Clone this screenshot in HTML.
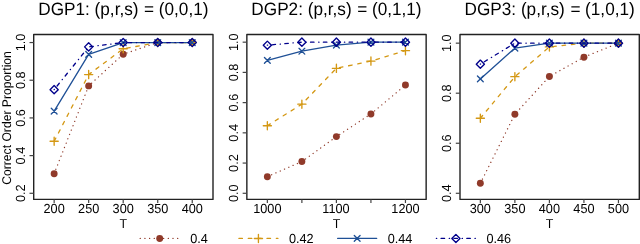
<!DOCTYPE html><html><head><meta charset="utf-8"><style>html,body{margin:0;padding:0;background:#fff;width:640px;height:244px;overflow:hidden}svg{display:block;will-change:transform}text{font-family:"Liberation Sans",sans-serif;fill:#000;text-rendering:geometricPrecision}</style></head><body>
<svg width="640" height="244" viewBox="0 0 640 244">
<text transform="translate(38.222,14.600) scale(1,1.04)" font-size="17.2">DGP1: (p,r,s)</text>
<text transform="translate(144.124,14.600) scale(1,1.04)" font-size="17.2">=</text>
<text transform="translate(158.768,14.600) scale(1,1.04)" font-size="17.2">(0,0,1)</text>
<polyline points="54.15,173.70 88.67,85.88 123.20,54.22 157.72,42.54 192.25,42.54" fill="none" stroke="#903A2A" stroke-width="1.3" stroke-linecap="round" stroke-linejoin="round" stroke-dasharray="0.1 4.58"/>
<circle cx="54.15" cy="173.70" r="3.47" fill="#903A2A"/>
<circle cx="88.67" cy="85.88" r="3.47" fill="#903A2A"/>
<circle cx="123.20" cy="54.22" r="3.47" fill="#903A2A"/>
<circle cx="157.72" cy="42.54" r="3.47" fill="#903A2A"/>
<circle cx="192.25" cy="42.54" r="3.47" fill="#903A2A"/>
<polyline points="54.15,141.28 88.67,74.58 123.20,48.76 157.72,42.54 192.25,42.54" fill="none" stroke="#D49814" stroke-width="1.3" stroke-linecap="round" stroke-linejoin="round" stroke-dasharray="3.51 5.85"/>
<path d="M50.07 141.28H58.23M54.15 137.20V145.37" stroke="#D49814" stroke-width="1.35" stroke-linecap="round" fill="none"/>
<path d="M84.59 74.58H92.76M88.67 70.49V78.66" stroke="#D49814" stroke-width="1.35" stroke-linecap="round" fill="none"/>
<path d="M119.12 48.76H127.28M123.20 44.68V52.84" stroke="#D49814" stroke-width="1.35" stroke-linecap="round" fill="none"/>
<path d="M153.64 42.54H161.81M157.72 38.46V46.62" stroke="#D49814" stroke-width="1.35" stroke-linecap="round" fill="none"/>
<path d="M188.17 42.54H196.33M192.25 38.46V46.62" stroke="#D49814" stroke-width="1.35" stroke-linecap="round" fill="none"/>
<polyline points="54.15,111.13 88.67,54.41 123.20,42.54 157.72,42.54 192.25,42.54" fill="none" stroke="#1F5096" stroke-width="1.3" stroke-linecap="round" stroke-linejoin="round"/>
<path d="M51.26 108.25L57.04 114.02M51.26 114.02L57.04 108.25" stroke="#1F5096" stroke-width="1.35" stroke-linecap="round" fill="none"/>
<path d="M85.79 51.52L91.56 57.30M85.79 57.30L91.56 51.52" stroke="#1F5096" stroke-width="1.35" stroke-linecap="round" fill="none"/>
<path d="M120.31 39.65L126.09 45.43M120.31 45.43L126.09 39.65" stroke="#1F5096" stroke-width="1.35" stroke-linecap="round" fill="none"/>
<path d="M154.84 39.65L160.61 45.43M154.84 45.43L160.61 39.65" stroke="#1F5096" stroke-width="1.35" stroke-linecap="round" fill="none"/>
<path d="M189.36 39.65L195.14 45.43M189.36 45.43L195.14 39.65" stroke="#1F5096" stroke-width="1.35" stroke-linecap="round" fill="none"/>
<polyline points="54.15,89.65 88.67,46.87 123.20,42.54 157.72,42.54 192.25,42.54" fill="none" stroke="#00008B" stroke-width="1.3" stroke-linecap="round" stroke-linejoin="round" stroke-dasharray="0.3 4.38 3.51 4.68"/>
<path d="M54.15 85.57L58.23 89.65L54.15 93.73L50.07 89.65Z" stroke="#00008B" stroke-width="1.35" stroke-linejoin="round" fill="none"/>
<path d="M88.67 42.79L92.76 46.87L88.67 50.96L84.59 46.87Z" stroke="#00008B" stroke-width="1.35" stroke-linejoin="round" fill="none"/>
<path d="M123.20 38.46L127.28 42.54L123.20 46.62L119.12 42.54Z" stroke="#00008B" stroke-width="1.35" stroke-linejoin="round" fill="none"/>
<path d="M157.72 38.46L161.81 42.54L157.72 46.62L153.64 42.54Z" stroke="#00008B" stroke-width="1.35" stroke-linejoin="round" fill="none"/>
<path d="M192.25 38.46L196.33 42.54L192.25 46.62L188.17 42.54Z" stroke="#00008B" stroke-width="1.35" stroke-linejoin="round" fill="none"/>
<rect x="33.70" y="34.55" width="179.3" height="164.85" fill="none" stroke="#222" stroke-width="1.4" stroke-linejoin="round"/>
<line x1="54.15" y1="199.4" x2="54.15" y2="203.0" stroke="#444" stroke-width="1.2"/>
<line x1="88.67" y1="199.4" x2="88.67" y2="203.0" stroke="#444" stroke-width="1.2"/>
<line x1="123.20" y1="199.4" x2="123.20" y2="203.0" stroke="#444" stroke-width="1.2"/>
<line x1="157.72" y1="199.4" x2="157.72" y2="203.0" stroke="#444" stroke-width="1.2"/>
<line x1="192.25" y1="199.4" x2="192.25" y2="203.0" stroke="#444" stroke-width="1.2"/>
<text transform="translate(43.555,212.500) scale(1,1.04)" font-size="12.7">200</text>
<text transform="translate(78.080,212.500) scale(1,1.04)" font-size="12.7">250</text>
<text transform="translate(112.605,212.500) scale(1,1.04)" font-size="12.7">300</text>
<text transform="translate(147.130,212.500) scale(1,1.04)" font-size="12.7">350</text>
<text transform="translate(181.655,212.500) scale(1,1.04)" font-size="12.7">400</text>
<text transform="translate(119.563,228.100) scale(1,1.04)" font-size="12.4">T</text>
<line x1="29.50" y1="193.29" x2="33.70" y2="193.29" stroke="#444" stroke-width="1.2"/>
<text transform="translate(24.900,193.294) rotate(-90) translate(-8.827,0) scale(1,1.04)" font-size="12.7">0.2</text>
<line x1="29.50" y1="155.61" x2="33.70" y2="155.61" stroke="#444" stroke-width="1.2"/>
<text transform="translate(24.900,155.606) rotate(-90) translate(-8.827,0) scale(1,1.04)" font-size="12.7">0.4</text>
<line x1="29.50" y1="117.92" x2="33.70" y2="117.92" stroke="#444" stroke-width="1.2"/>
<text transform="translate(24.900,117.917) rotate(-90) translate(-8.827,0) scale(1,1.04)" font-size="12.7">0.6</text>
<line x1="29.50" y1="80.23" x2="33.70" y2="80.23" stroke="#444" stroke-width="1.2"/>
<text transform="translate(24.900,80.229) rotate(-90) translate(-8.827,0) scale(1,1.04)" font-size="12.7">0.8</text>
<line x1="29.50" y1="42.54" x2="33.70" y2="42.54" stroke="#444" stroke-width="1.2"/>
<text transform="translate(24.900,42.540) rotate(-90) translate(-8.827,0) scale(1,1.04)" font-size="12.7">1.0</text>
<text transform="translate(251.372,14.600) scale(1,1.04)" font-size="17.2">DGP2: (p,r,s)</text>
<text transform="translate(357.274,14.600) scale(1,1.04)" font-size="17.2">=</text>
<text transform="translate(371.918,14.600) scale(1,1.04)" font-size="17.2">(0,1,1)</text>
<polyline points="267.35,176.67 301.88,161.56 336.40,136.62 370.93,113.95 405.45,85.09" fill="none" stroke="#903A2A" stroke-width="1.3" stroke-linecap="round" stroke-linejoin="round" stroke-dasharray="0.1 4.58"/>
<circle cx="267.35" cy="176.67" r="3.47" fill="#903A2A"/>
<circle cx="301.88" cy="161.56" r="3.47" fill="#903A2A"/>
<circle cx="336.40" cy="136.62" r="3.47" fill="#903A2A"/>
<circle cx="370.93" cy="113.95" r="3.47" fill="#903A2A"/>
<circle cx="405.45" cy="85.09" r="3.47" fill="#903A2A"/>
<polyline points="267.35,125.74 301.88,104.13 336.40,68.31 370.93,61.06 405.45,50.63" fill="none" stroke="#D49814" stroke-width="1.3" stroke-linecap="round" stroke-linejoin="round" stroke-dasharray="3.51 5.85"/>
<path d="M263.27 125.74H271.43M267.35 121.66V129.82" stroke="#D49814" stroke-width="1.35" stroke-linecap="round" fill="none"/>
<path d="M297.79 104.13H305.96M301.88 100.05V108.21" stroke="#D49814" stroke-width="1.35" stroke-linecap="round" fill="none"/>
<path d="M332.32 68.31H340.48M336.40 64.23V72.39" stroke="#D49814" stroke-width="1.35" stroke-linecap="round" fill="none"/>
<path d="M366.84 61.06H375.01M370.93 56.98V65.14" stroke="#D49814" stroke-width="1.35" stroke-linecap="round" fill="none"/>
<path d="M401.37 50.63H409.53M405.45 46.55V54.71" stroke="#D49814" stroke-width="1.35" stroke-linecap="round" fill="none"/>
<polyline points="267.35,60.30 301.88,51.23 336.40,45.19 370.93,42.17 405.45,42.17" fill="none" stroke="#1F5096" stroke-width="1.3" stroke-linecap="round" stroke-linejoin="round"/>
<path d="M264.46 57.41L270.24 63.19M264.46 63.19L270.24 57.41" stroke="#1F5096" stroke-width="1.35" stroke-linecap="round" fill="none"/>
<path d="M298.99 48.35L304.76 54.12M298.99 54.12L304.76 48.35" stroke="#1F5096" stroke-width="1.35" stroke-linecap="round" fill="none"/>
<path d="M333.51 42.30L339.29 48.08M333.51 48.08L339.29 42.30" stroke="#1F5096" stroke-width="1.35" stroke-linecap="round" fill="none"/>
<path d="M368.04 39.28L373.81 45.05M368.04 45.05L373.81 39.28" stroke="#1F5096" stroke-width="1.35" stroke-linecap="round" fill="none"/>
<path d="M402.56 39.28L408.34 45.05M402.56 45.05L408.34 39.28" stroke="#1F5096" stroke-width="1.35" stroke-linecap="round" fill="none"/>
<polyline points="267.35,45.19 301.88,42.17 336.40,42.17 370.93,42.17 405.45,42.17" fill="none" stroke="#00008B" stroke-width="1.3" stroke-linecap="round" stroke-linejoin="round" stroke-dasharray="0.3 4.38 3.51 4.68"/>
<path d="M267.35 41.11L271.43 45.19L267.35 49.27L263.27 45.19Z" stroke="#00008B" stroke-width="1.35" stroke-linejoin="round" fill="none"/>
<path d="M301.88 38.09L305.96 42.17L301.88 46.25L297.79 42.17Z" stroke="#00008B" stroke-width="1.35" stroke-linejoin="round" fill="none"/>
<path d="M336.40 38.09L340.48 42.17L336.40 46.25L332.32 42.17Z" stroke="#00008B" stroke-width="1.35" stroke-linejoin="round" fill="none"/>
<path d="M370.93 38.09L375.01 42.17L370.93 46.25L366.84 42.17Z" stroke="#00008B" stroke-width="1.35" stroke-linejoin="round" fill="none"/>
<path d="M405.45 38.09L409.53 42.17L405.45 46.25L401.37 42.17Z" stroke="#00008B" stroke-width="1.35" stroke-linejoin="round" fill="none"/>
<rect x="246.85" y="34.55" width="179.3" height="164.85" fill="none" stroke="#222" stroke-width="1.4" stroke-linejoin="round"/>
<line x1="267.35" y1="199.4" x2="267.35" y2="203.0" stroke="#444" stroke-width="1.2"/>
<line x1="301.88" y1="199.4" x2="301.88" y2="203.0" stroke="#444" stroke-width="1.2"/>
<line x1="336.40" y1="199.4" x2="336.40" y2="203.0" stroke="#444" stroke-width="1.2"/>
<line x1="370.93" y1="199.4" x2="370.93" y2="203.0" stroke="#444" stroke-width="1.2"/>
<line x1="405.45" y1="199.4" x2="405.45" y2="203.0" stroke="#444" stroke-width="1.2"/>
<text transform="translate(253.224,212.500) scale(1,1.04)" font-size="12.7">1000</text>
<text transform="translate(322.274,212.500) scale(1,1.04)" font-size="12.7">1100</text>
<text transform="translate(391.324,212.500) scale(1,1.04)" font-size="12.7">1200</text>
<text transform="translate(332.713,228.100) scale(1,1.04)" font-size="12.4">T</text>
<line x1="242.65" y1="193.29" x2="246.85" y2="193.29" stroke="#444" stroke-width="1.2"/>
<text transform="translate(238.050,193.294) rotate(-90) translate(-8.827,0) scale(1,1.04)" font-size="12.7">0.0</text>
<line x1="242.65" y1="163.07" x2="246.85" y2="163.07" stroke="#444" stroke-width="1.2"/>
<text transform="translate(238.050,163.069) rotate(-90) translate(-8.827,0) scale(1,1.04)" font-size="12.7">0.2</text>
<line x1="242.65" y1="132.84" x2="246.85" y2="132.84" stroke="#444" stroke-width="1.2"/>
<text transform="translate(238.050,132.843) rotate(-90) translate(-8.827,0) scale(1,1.04)" font-size="12.7">0.4</text>
<line x1="242.65" y1="102.62" x2="246.85" y2="102.62" stroke="#444" stroke-width="1.2"/>
<text transform="translate(238.050,102.618) rotate(-90) translate(-8.827,0) scale(1,1.04)" font-size="12.7">0.6</text>
<line x1="242.65" y1="72.39" x2="246.85" y2="72.39" stroke="#444" stroke-width="1.2"/>
<text transform="translate(238.050,72.392) rotate(-90) translate(-8.827,0) scale(1,1.04)" font-size="12.7">0.8</text>
<line x1="242.65" y1="42.17" x2="246.85" y2="42.17" stroke="#444" stroke-width="1.2"/>
<text transform="translate(238.050,42.167) rotate(-90) translate(-8.827,0) scale(1,1.04)" font-size="12.7">1.0</text>
<text transform="translate(464.522,14.600) scale(1,1.04)" font-size="17.2">DGP3: (p,r,s)</text>
<text transform="translate(570.424,14.600) scale(1,1.04)" font-size="17.2">=</text>
<text transform="translate(585.068,14.600) scale(1,1.04)" font-size="17.2">(1,0,1)</text>
<polyline points="480.35,183.29 514.88,114.22 549.40,76.44 583.93,57.17 618.45,43.16" fill="none" stroke="#903A2A" stroke-width="1.3" stroke-linecap="round" stroke-linejoin="round" stroke-dasharray="0.1 4.58"/>
<circle cx="480.35" cy="183.29" r="3.47" fill="#903A2A"/>
<circle cx="514.88" cy="114.22" r="3.47" fill="#903A2A"/>
<circle cx="549.40" cy="76.44" r="3.47" fill="#903A2A"/>
<circle cx="583.93" cy="57.17" r="3.47" fill="#903A2A"/>
<circle cx="618.45" cy="43.16" r="3.47" fill="#903A2A"/>
<polyline points="480.35,118.23 514.88,76.69 549.40,46.91 583.93,43.16 618.45,43.16" fill="none" stroke="#D49814" stroke-width="1.3" stroke-linecap="round" stroke-linejoin="round" stroke-dasharray="3.51 5.85"/>
<path d="M476.27 118.23H484.43M480.35 114.15V122.31" stroke="#D49814" stroke-width="1.35" stroke-linecap="round" fill="none"/>
<path d="M510.79 76.69H518.96M514.88 72.61V80.77" stroke="#D49814" stroke-width="1.35" stroke-linecap="round" fill="none"/>
<path d="M545.32 46.91H553.48M549.40 42.83V50.99" stroke="#D49814" stroke-width="1.35" stroke-linecap="round" fill="none"/>
<path d="M579.84 43.16H588.01M583.93 39.08V47.24" stroke="#D49814" stroke-width="1.35" stroke-linecap="round" fill="none"/>
<path d="M614.37 43.16H622.53M618.45 39.08V47.24" stroke="#D49814" stroke-width="1.35" stroke-linecap="round" fill="none"/>
<polyline points="480.35,78.94 514.88,48.16 549.40,43.16 583.93,43.16 618.45,43.16" fill="none" stroke="#1F5096" stroke-width="1.3" stroke-linecap="round" stroke-linejoin="round"/>
<path d="M477.46 76.05L483.24 81.83M477.46 81.83L483.24 76.05" stroke="#1F5096" stroke-width="1.35" stroke-linecap="round" fill="none"/>
<path d="M511.99 45.27L517.76 51.05M511.99 51.05L517.76 45.27" stroke="#1F5096" stroke-width="1.35" stroke-linecap="round" fill="none"/>
<path d="M546.51 40.27L552.29 46.05M546.51 46.05L552.29 40.27" stroke="#1F5096" stroke-width="1.35" stroke-linecap="round" fill="none"/>
<path d="M581.04 40.27L586.81 46.05M581.04 46.05L586.81 40.27" stroke="#1F5096" stroke-width="1.35" stroke-linecap="round" fill="none"/>
<path d="M615.56 40.27L621.34 46.05M615.56 46.05L621.34 40.27" stroke="#1F5096" stroke-width="1.35" stroke-linecap="round" fill="none"/>
<polyline points="480.35,64.18 514.88,43.16 549.40,43.16 583.93,43.16 618.45,43.16" fill="none" stroke="#00008B" stroke-width="1.3" stroke-linecap="round" stroke-linejoin="round" stroke-dasharray="0.3 4.38 3.51 4.68"/>
<path d="M480.35 60.10L484.43 64.18L480.35 68.26L476.27 64.18Z" stroke="#00008B" stroke-width="1.35" stroke-linejoin="round" fill="none"/>
<path d="M514.88 39.08L518.96 43.16L514.88 47.24L510.79 43.16Z" stroke="#00008B" stroke-width="1.35" stroke-linejoin="round" fill="none"/>
<path d="M549.40 39.08L553.48 43.16L549.40 47.24L545.32 43.16Z" stroke="#00008B" stroke-width="1.35" stroke-linejoin="round" fill="none"/>
<path d="M583.93 39.08L588.01 43.16L583.93 47.24L579.84 43.16Z" stroke="#00008B" stroke-width="1.35" stroke-linejoin="round" fill="none"/>
<path d="M618.45 39.08L622.53 43.16L618.45 47.24L614.37 43.16Z" stroke="#00008B" stroke-width="1.35" stroke-linejoin="round" fill="none"/>
<rect x="460.00" y="34.55" width="179.3" height="164.85" fill="none" stroke="#222" stroke-width="1.4" stroke-linejoin="round"/>
<line x1="480.35" y1="199.4" x2="480.35" y2="203.0" stroke="#444" stroke-width="1.2"/>
<line x1="514.88" y1="199.4" x2="514.88" y2="203.0" stroke="#444" stroke-width="1.2"/>
<line x1="549.40" y1="199.4" x2="549.40" y2="203.0" stroke="#444" stroke-width="1.2"/>
<line x1="583.93" y1="199.4" x2="583.93" y2="203.0" stroke="#444" stroke-width="1.2"/>
<line x1="618.45" y1="199.4" x2="618.45" y2="203.0" stroke="#444" stroke-width="1.2"/>
<text transform="translate(469.755,212.500) scale(1,1.04)" font-size="12.7">300</text>
<text transform="translate(504.280,212.500) scale(1,1.04)" font-size="12.7">350</text>
<text transform="translate(538.805,212.500) scale(1,1.04)" font-size="12.7">400</text>
<text transform="translate(573.330,212.500) scale(1,1.04)" font-size="12.7">450</text>
<text transform="translate(607.855,212.500) scale(1,1.04)" font-size="12.7">500</text>
<text transform="translate(545.863,228.100) scale(1,1.04)" font-size="12.4">T</text>
<line x1="455.80" y1="193.29" x2="460.00" y2="193.29" stroke="#444" stroke-width="1.2"/>
<text transform="translate(451.200,193.294) rotate(-90) translate(-8.827,0) scale(1,1.04)" font-size="12.7">0.4</text>
<line x1="455.80" y1="143.25" x2="460.00" y2="143.25" stroke="#444" stroke-width="1.2"/>
<text transform="translate(451.200,143.249) rotate(-90) translate(-8.827,0) scale(1,1.04)" font-size="12.7">0.6</text>
<line x1="455.80" y1="93.20" x2="460.00" y2="93.20" stroke="#444" stroke-width="1.2"/>
<text transform="translate(451.200,93.203) rotate(-90) translate(-8.827,0) scale(1,1.04)" font-size="12.7">0.8</text>
<line x1="455.80" y1="43.16" x2="460.00" y2="43.16" stroke="#444" stroke-width="1.2"/>
<text transform="translate(451.200,43.158) rotate(-90) translate(-8.827,0) scale(1,1.04)" font-size="12.7">1.0</text>
<text transform="translate(10.500,117.900) rotate(-90) translate(-66.849,0) scale(1,1.04)" font-size="12.15">Correct Order Proportion</text>
<line x1="140.20" y1="238.45" x2="179.20" y2="238.45" stroke="#903A2A" stroke-width="1.3" stroke-linecap="round" stroke-dasharray="0.1 4.58"/>
<circle cx="159.70" cy="238.45" r="3.47" fill="#903A2A"/>
<text transform="translate(190.200,243.300) scale(1,1.04)" font-size="12.7">0.4</text>
<line x1="238.93" y1="238.45" x2="277.93" y2="238.45" stroke="#D49814" stroke-width="1.3" stroke-linecap="round" stroke-dasharray="3.51 5.85"/>
<path d="M254.35 238.45H262.51M258.43 234.37V242.53" stroke="#D49814" stroke-width="1.35" stroke-linecap="round" fill="none"/>
<text transform="translate(288.930,243.300) scale(1,1.04)" font-size="12.7">0.42</text>
<line x1="337.67" y1="238.45" x2="376.67" y2="238.45" stroke="#1F5096" stroke-width="1.3" stroke-linecap="round"/>
<path d="M354.28 235.56L360.06 241.34M354.28 241.34L360.06 235.56" stroke="#1F5096" stroke-width="1.35" stroke-linecap="round" fill="none"/>
<text transform="translate(387.670,243.300) scale(1,1.04)" font-size="12.7">0.44</text>
<line x1="436.40" y1="238.45" x2="475.40" y2="238.45" stroke="#00008B" stroke-width="1.3" stroke-linecap="round" stroke-dasharray="0.3 4.38 3.51 4.68"/>
<path d="M455.90 234.37L459.98 238.45L455.90 242.53L451.82 238.45Z" stroke="#00008B" stroke-width="1.35" stroke-linejoin="round" fill="none"/>
<text transform="translate(486.400,243.300) scale(1,1.04)" font-size="12.7">0.46</text>
</svg></body></html>
